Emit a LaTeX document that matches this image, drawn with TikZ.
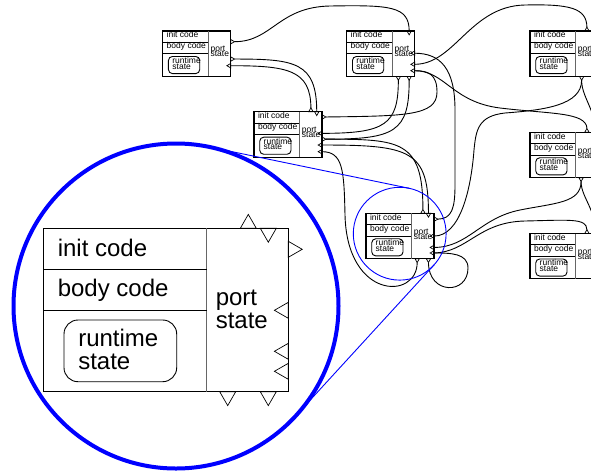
\documentclass[tikz,border=0pt]{standalone}
\usepackage{fontspec}
\setmainfont{Liberation Sans}
\newcommand\smallfnt{\fontsize{8.5}{8.5}\selectfont}
\newcommand\bigfnt{\fontsize{24}{24}\selectfont}
% block outline in local units (245 x 163.4); #1 corner radius of the runtime box
\newcommand\blockframe[1]{%
  \draw[frame] (0,0) rectangle (245,163.4);
  \draw[divider] (163.4,0) -- (163.4,163.4);
  \draw[rowline] (0,41) -- (163.4,41) (0,81.7) -- (163.4,81.7);
  \draw[rowline,rounded corners=#1] (20.7,91.7) rectangle (133.4,153.4);}
% block texts: #1 name, #2 font, #3..#8 baselines
\newcommand\blocklabels[8]{%
  \node[lbl,font=#2] (#1-init) at (14.5,#3) {init code};
  \node[lbl,font=#2] (#1-body) at (14.5,#4) {body code};
  \node[lbl,font=#2] (#1-run) at (35,#5) {runtime};
  \node[lbl,font=#2] (#1-rst) at (35,#6) {state};
  \node[lbl,font=#2] (#1-port) at (172.5,#7) {port};
  \node[lbl,font=#2] (#1-pst) at (172.5,#8) {state};}
\newcommand\smallblock[1]{\blockframe{4pt}\blocklabels{#1}{\smallfnt}{25.2}{64.8}{116.4}{136.9}{74.6}{92.6}}
\newcommand\bigblock[1]{\blockframe{14pt}\blocklabels{#1}{\bigfnt}{28.4}{68.4}{117.7}{140.7}{76.7}{99.7}}
% port triangle pointing away from the box: wire meets the apex
\newcommand\portout[3]{%
  \draw[portline] (#2) +(#3+90:8) -- +(#3:13.9) -- +(#3-90:8) -- cycle;
  \path (#2) ++(#3:13.9) coordinate (#1);}
% port triangle pointing into the box: wire meets the base
\newcommand\portin[3]{%
  \draw[portline] (#2) +(#3+90:8) -- +(#3:13.9) -- +(#3-90:8) -- cycle;
  \coordinate (#1) at (#2);}
\newcommand\fullports[1]{%
  \portout{#1-t1}{205,0}{-90}
  \portin{#1-t2}{225,0}{90}
  \portout{#1-r1}{245,21}{0}
  \portin{#1-l1}{245,82}{180}
  \portin{#1-l2}{245,123}{180}
  \portin{#1-l3}{245,143}{180}
  \portout{#1-b1}{184.4,163.4}{90}
  \portout{#1-b2}{225,163.4}{90}}
\begin{document}
\begin{tikzpicture}[x=1pt,y=-1pt,
  frame/.style={line width=1.1pt},
  divider/.style={line width=0.8pt,black!60},
  rowline/.style={line width=0.9pt},
  lbl/.style={anchor=base west,inner sep=0pt,outer sep=0pt},
  portline/.style={line width=0.7pt,line join=miter},
  wire/.style={line width=0.9pt},
  lensline/.style={draw=blue,line width=0.9pt}]
\useasboundingbox (0,0) rectangle (591,472);
\fill[white] (0,0) rectangle (591,472);
\clip (0,0) rectangle (591,472);

% small blocks
\begin{scope}[shift={(162.7,31)},scale=0.2776]
  \smallblock{A}
  \portout{A-r1}{245,38.5}{0}
  \portout{A-r2}{245,101}{0}
  \portin{A-l2}{245,125}{180}
\end{scope}
\begin{scope}[shift={(346.7,31)},scale=0.2776]
  \smallblock{B}
  \portin{B-t2}{225,0}{90}
  \portin{B-l1}{245,80}{180}
  \portin{B-l2}{245,120}{180}
  \portin{B-l3}{245,143}{180}
  \portout{B-b1}{186,163.4}{90}
  \portout{B-b2}{225,163.4}{90}
\end{scope}
\begin{scope}[shift={(530,31)},scale=0.2776]
  \smallblock{C}
  \portout{C-t1}{205,0}{-90}
  \portout{C-b1}{186,163.4}{90}
\end{scope}
\begin{scope}[shift={(254,111.7)},scale=0.2776]
  \smallblock{D}
  \portout{D-t1}{205,0}{-90}
  \portin{D-t2}{226,0}{90}
  \portout{D-r1}{245,19}{0}
  \portin{D-l1}{245,78}{180}
  \portout{D-r2}{245,99}{0}
  \portin{D-l2}{245,120}{180}
  \portin{D-l3}{245,144}{180}
\end{scope}
\begin{scope}[shift={(530,132.3)},scale=0.2776]
  \smallblock{E}
  \portout{E-t1}{205,0}{-90}
  \portin{E-l1}{245,82}{180}
  \portout{E-b1}{184,163.4}{90}
\end{scope}
\begin{scope}[shift={(366,213.3)},scale=0.2776]
  \smallblock{F}
  \fullports{F}
\end{scope}
\begin{scope}[shift={(530,233.5)},scale=0.2776]
  \smallblock{G}
  \portout{G-t1}{205,0}{-90}
  \portin{G-l1}{245,82}{180}
\end{scope}

% magnified block
\begin{scope}[shift={(43.3,228.3)}]
  \bigblock{M}
  \fullports{M}
\end{scope}

% wires
\draw[wire] (A-r1) .. controls (272,41.7) and (278,7) .. (330,6) .. controls (390,5) and (409.2,6) .. (B-t2);
\draw[wire] (A-r2) .. controls (295,59) and (316.7,62) .. (D-t2);
\draw[wire] (D-t1) .. controls (310.6,70) and (288,65.7) .. (A-l2);
\draw[wire] (C-t1) .. controls (586.6,8) and (570,4) .. (525,5) .. controls (470,6) and (455,64.3) .. (B-l2);
\draw[wire] (D-r1) .. controls (405,116) and (437,116) .. (437,92) .. controls (437,74) and (428,70.7) .. (B-l3);
\draw[wire] (E-t1) .. controls (586.6,112) and (550,114) .. (500,108) .. controls (452,102) and (445,70.7) .. (B-l3);
\draw[wire] (C-b1) .. controls (581.6,105) and (545,110) .. (505,113) .. controls (478,116) and (476,130) .. (474,150) .. controls (471,190) and (460,236.1) .. (F-l1);
\draw[wire] (F-r1) .. controls (452,219) and (455,208) .. (455,185) -- (455,110) .. controls (455,68) and (440,53.3) .. (B-l1);
\draw[wire] (B-b1) .. controls (398.3,125) and (385,133.3) .. (D-l1);
\draw[wire] (B-b2) .. controls (409.2,132) and (395,139.2) .. (D-r2);
\draw[wire] (D-r2) .. controls (400,139.2) and (422.9,140) .. (F-t1);
\draw[wire] (D-l2) .. controls (410,145) and (428.5,150) .. (F-t2);
\draw[wire] (F-b1) .. controls (417.1,300) and (347,300) .. (345,215) .. controls (344,170) and (343,151.7) .. (D-l3);
\draw[wire] (F-b2) .. controls (428.5,295) and (468,295) .. (468,268) .. controls (468,253) and (450,253) .. (F-l3);
\draw[wire] (E-b1) .. controls (581.1,203) and (555,203) .. (520,210) .. controls (480,218) and (468,247.4) .. (F-l2);
\draw[wire] (G-t1) .. controls (586.6,218) and (570,220) .. (525,221) .. controls (478,222) and (468,252) .. (F-l3);
\draw[wire] (C-b1) .. controls (581.6,100) and (600,112) .. (E-l1);
\draw[wire] (E-b1) .. controls (581.1,200) and (600,210) .. (G-l1);

% magnifier
\node[circle,draw=blue,line width=4pt,minimum size=325pt,inner sep=0pt,outer sep=0pt] (zoomc) at (176,306) {};
\node[circle,lensline,minimum size=92.8pt,inner sep=0pt,outer sep=0pt] (lens) at (399.7,233.7) {};
\draw[lensline] (zoomc.78.3) -- (lens.78.3);
\draw[lensline] (zoomc.-42.5) -- (lens.-42.5);
\end{tikzpicture}
\end{document}
